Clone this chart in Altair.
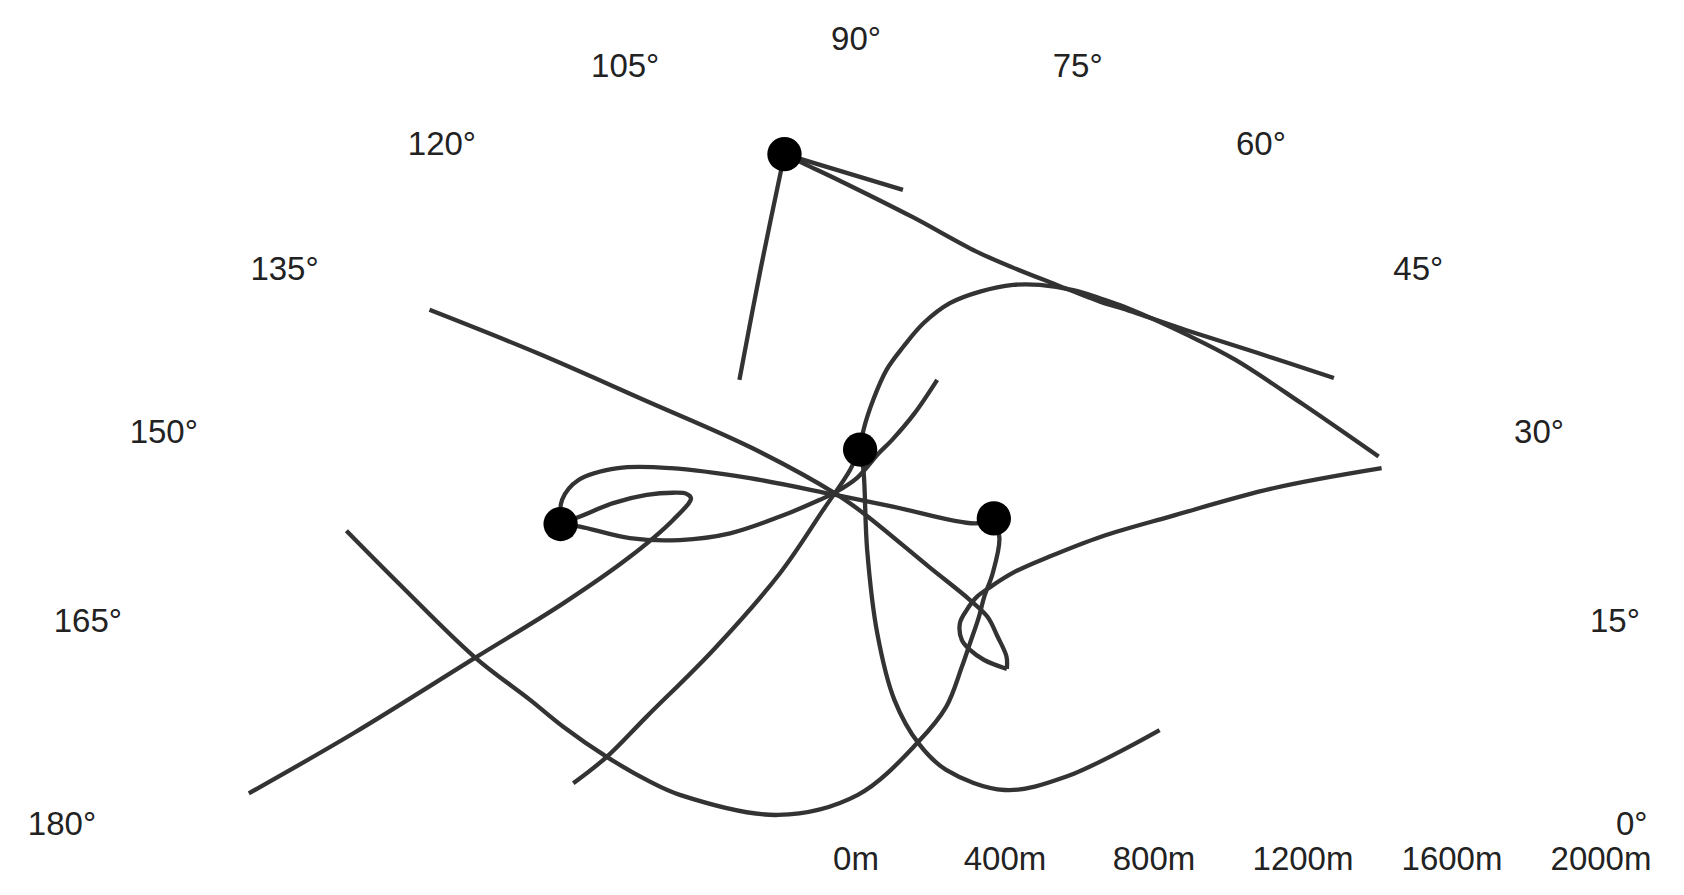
import altair as alt
import pandas as pd

# ---- tick values -------------------------------------------------------
angle_ticks = [0, 15, 30, 45, 60, 75, 90, 105, 120, 135, 150, 165, 180]   # degrees
distance_ticks = [0, 400, 800, 1200, 1600, 2000]                            # metres
label_radius_x = 2040          # metres (horizontal reach of the angle-label ring)
label_radius_y = 2107          # metres (vertical reach of the angle-label ring)
distance_label_y = -93         # metres (just below the baseline)

# ---- traced paths (east / north offsets in metres) ----------------------
path_a = [(-192, 1801), (-255, 1498), (-313, 1195)]
path_b = [(-192, 1801), (126, 1705)]
path_c = [(-192, 1801), (-143, 1777), (-38, 1727), (150, 1633), (322, 1540), (420, 1497),
          (539, 1450), (655, 1405), (711, 1388), (885, 1329), (1079, 1267), (1283, 1200)]
path_d = [(11, 1008), (20, 1060), (46, 1141), (82, 1222), (127, 1284), (181, 1347),
          (252, 1401), (333, 1432), (422, 1450), (494, 1450), (583, 1436), (655, 1414),
          (720, 1391), (899, 1311), (1020, 1248), (1199, 1130), (1403, 989)]
path_e = [(1411, 958), (1120, 904), (843, 828), (658, 774), (518, 720), (427, 680),
          (362, 640), (325, 613), (297, 577), (279, 542), (284, 497), (306, 470),
          (344, 443), (405, 419)]
path_f = [(-1145, 1383), (-856, 1267), (-569, 1141), (-279, 1012), (-54, 889), (20, 837),
          (196, 693), (306, 604), (353, 559), (380, 506), (404, 452), (405, 419)]
path_g = [(-759, 112), (-669, 183), (-562, 291), (-383, 470), (-204, 676), (-88, 846),
          (-16, 953), (5, 1001)]
path_h = [(-1368, 790), (-1228, 649), (-1024, 451), (-875, 336), (-786, 264), (-669, 183),
          (-562, 121), (-473, 81), (-209, 27), (5, 81), (168, 224), (242, 317), (284, 424),
          (306, 488), (330, 559), (344, 612), (367, 676), (385, 770), (370, 823)]
path_i = [(-1630, 85), (-1348, 247), (-1024, 448), (-786, 595), (-607, 720), (-491, 819),
          (-443, 877), (-455, 889), (-491, 892), (-562, 886), (-652, 864), (-741, 828),
          (-793, 808)]
path_j = [(-793, 808), (-789, 873), (-745, 926), (-639, 958), (-497, 958), (-285, 931),
          (-55, 886), (99, 855), (320, 810), (370, 823)]
path_k = [(-793, 808), (-741, 801), (-607, 770), (-473, 765), (-338, 783), (-204, 828),
          (-97, 873), (-52, 895), (3, 932), (61, 998), (97, 1034), (157, 1105), (218, 1195)]
path_l = [(11, 1008), (20, 953), (30, 738), (57, 515), (103, 336), (168, 219), (242, 148),
          (399, 94), (565, 130), (815, 255)]

markers = [(-192, 1801), (11, 1008), (-793, 808), (370, 823)]

paths = {"A": path_a, "B": path_b, "C": path_c, "D": path_d, "E": path_e, "F": path_f,
         "G": path_g, "H": path_h, "I": path_i, "J": path_j, "K": path_k, "L": path_l}

rows = []
for name, pts in paths.items():
    for i, (x, y) in enumerate(pts):
        rows.append({"path": name, "order": i, "x": x, "y": y})
df_paths = pd.DataFrame(rows)
df_markers = pd.DataFrame(markers, columns=["x", "y"])
df_angles = pd.DataFrame({"angle": angle_ticks})
df_dist = pd.DataFrame({"d": distance_ticks})

# ---- scales ---------------------------------------------------------------
W, H = 1664, 874
xscale = alt.Scale(domain=[-2276.5, 2190.6], nice=False, zero=False)
yscale = alt.Scale(domain=[-153.0, 2193.3], nice=False, zero=False)
FONT = "Liberation Sans"
FS = 33
TXT = "#222222"

lines = alt.Chart(df_paths).mark_line(
    interpolate="catmull-rom", color="#333333", strokeWidth=4.3
).encode(
    x=alt.X("x:Q", scale=xscale, axis=None),
    y=alt.Y("y:Q", scale=yscale, axis=None),
    detail="path:N",
    order="order:Q",
)

dots = alt.Chart(df_markers).mark_circle(size=1176, color="#000000", opacity=1).encode(
    x=alt.X("x:Q", scale=xscale, axis=None),
    y=alt.Y("y:Q", scale=yscale, axis=None),
)

angle_base = alt.Chart(df_angles).transform_calculate(
    lx=f"{label_radius_x} * cos(datum.angle * PI / 180)",
    ly=f"{label_radius_y} * sin(datum.angle * PI / 180)",
    label="datum.angle + '°'",
)


def angle_layer(filter_expr, align):
    return angle_base.transform_filter(filter_expr).mark_text(
        font=FONT, fontSize=FS, color=TXT, align=align, baseline="middle"
    ).encode(
        x=alt.X("lx:Q", scale=xscale, axis=None),
        y=alt.Y("ly:Q", scale=yscale, axis=None),
        text="label:N",
    )


angle_right = angle_layer("datum.angle < 90", "left")
angle_top = angle_layer("datum.angle == 90", "center")
angle_left = angle_layer("datum.angle > 90", "right")

dist_labels = alt.Chart(df_dist).transform_calculate(
    ly=f"{distance_label_y}",
    label="datum.d + 'm'",
).mark_text(
    font=FONT, fontSize=FS, color=TXT, align="center", baseline="middle"
).encode(
    x=alt.X("d:Q", scale=xscale, axis=None),
    y=alt.Y("ly:Q", scale=yscale, axis=None),
    text="label:N",
)

chart = alt.layer(lines, dots, angle_right, angle_top, angle_left, dist_labels).properties(
    width=W, height=H, padding=0,
    autosize=alt.AutoSizeParams(type="none"),
).configure_view(stroke=None)

chart.save("out.html", embed_options={"renderer": "svg", "actions": False})
